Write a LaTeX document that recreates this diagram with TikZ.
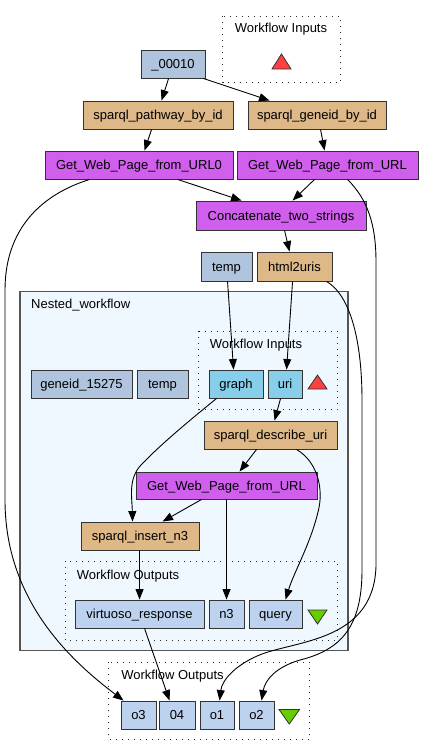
\documentclass[tikz,border=0pt]{standalone}
\usepackage{fontspec}
\setmainfont{Liberation Sans}
\usetikzlibrary{arrows.meta,calc}
\definecolor{steel}{HTML}{B0C4DE}
\definecolor{burly}{HTML}{DEB887}
\definecolor{orchid}{HTML}{D15FEE}
\definecolor{sky}{HTML}{87CEEB}
\definecolor{outb}{HTML}{BCD2EE}
\definecolor{alice}{HTML}{F0F8FF}
\definecolor{trired}{HTML}{FF4040}
\definecolor{trigreen}{HTML}{66CD00}
\definecolor{clgray}{HTML}{555555}
\newcommand\mkbox[7]{\node[box,fill=#6,minimum width={(#4-#2)*1pt},minimum height={(#5-#3)*1pt}] (#1) at ({(#2+#4)/2},{(#3+#5)/2}) {#7};}
\begin{document}
\begin{tikzpicture}[x=1pt,y=-1pt,
  box/.style={draw=black!80,line width=0.9pt,inner sep=0pt,font=\fontsize{13}{15}\selectfont,text height=9.3pt,text depth=0pt,anchor=center},
  cluster/.style={draw=black!85,line width=1pt,dash pattern=on 1pt off 5pt},
  lbl/.style={inner sep=0pt,font=\fontsize{13}{15}\selectfont,text height=9.3pt,text depth=0pt},
  edge/.style={draw=black,line width=0.9pt,-{Triangle[length=10.5pt,width=8pt]}},
  tri/.style={draw=black!80,line width=0.8pt}]
\useasboundingbox (0,0) rectangle (424,756);
% clusters
\draw[cluster] (222.5,16) rectangle (340,82.5);
\node[lbl] (lblTopIn) at (281,28) {Workflow Inputs};
\draw[fill=alice,draw=clgray,line width=1.2pt] (20,291.5) rectangle (348,650.5);
\node[lbl,anchor=west] (lblNested) at (31,304) {Nested\_workflow};
\draw[cluster] (198.5,331) rectangle (337,409);
\node[lbl] (lblInIn) at (256,343.5) {Workflow Inputs};
\draw[cluster] (65,561) rectangle (337,640);
\node[lbl] (lblInOut) at (128,575) {Workflow Outputs};
\draw[cluster] (108.5,662) rectangle (309,739);
\node[lbl] (lblBotOut) at (172.5,675) {Workflow Outputs};
% triangles
\draw[tri,fill=trired] (272,69) -- (291,69) -- (281.5,54) -- cycle;
\draw[tri,fill=trired] (308,389) -- (327,389) -- (317.5,375) -- cycle;
\draw[tri,fill=trigreen] (308,610) -- (327,610) -- (317.5,624) -- cycle;
\draw[tri,fill=trigreen] (279,709.5) -- (299.5,709.5) -- (289.25,724) -- cycle;
% boxes
\mkbox{n00010}{141}{50}{205}{78}{steel}{\_00010}
\mkbox{pathway}{83}{101}{233}{129}{burly}{sparql\_pathway\_by\_id}
\mkbox{geneid}{248}{101}{386}{129}{burly}{sparql\_geneid\_by\_id}
\mkbox{gwpA}{45}{151}{233}{179}{orchid}{Get\_Web\_Page\_from\_URL0}
\mkbox{gwpB}{237}{151}{418}{179}{orchid}{Get\_Web\_Page\_from\_URL}
\mkbox{concat}{196}{201}{366}{230}{orchid}{Concatenate\_two\_strings}
\mkbox{tempA}{201}{252}{252}{281}{steel}{temp}
\mkbox{html}{257}{252}{332}{281}{burly}{html2uris}
\mkbox{geneidB}{31}{370}{132}{398}{steel}{geneid\_15275}
\mkbox{tempB}{137}{370}{188}{398}{steel}{temp}
\mkbox{graph}{209}{370}{263}{398}{sky}{graph}
\mkbox{uri}{268}{370}{302}{398}{sky}{uri}
\mkbox{sdu}{204}{421}{337}{449}{burly}{sparql\_describe\_uri}
\mkbox{gwpC}{136}{472}{317}{499}{orchid}{Get\_Web\_Page\_from\_URL}
\mkbox{sin}{81}{522}{199}{550}{burly}{sparql\_insert\_n3}
\mkbox{virt}{75}{600}{204}{628}{outb}{virtuoso\_response}
\mkbox{nthree}{209}{600}{244}{628}{outb}{n3}
\mkbox{query}{249}{600}{302}{628}{outb}{query}
\mkbox{othree}{121}{701}{156}{729}{outb}{o3}
\mkbox{ofour}{159}{701}{195}{729}{outb}{04}
\mkbox{oone}{200}{701}{234}{729}{outb}{o1}
\mkbox{otwo}{239}{701}{274}{729}{outb}{o2}
% edges
\draw[edge] ([xshift=28pt]n00010.south west) -- ([xshift=79pt]pathway.north west);
\draw[edge] ([xshift=-2pt]n00010.south east) -- ([xshift=22pt]geneid.north west);
\draw[edge] ([xshift=69pt]pathway.south west) -- ([xshift=100pt]gwpA.north west);
\draw[edge] ([xshift=73pt]geneid.south west) -- ([xshift=88pt]gwpB.north west);
\draw[edge] ([xshift=133pt]gwpA.south west) -- ([xshift=46pt]concat.north west);
\draw[edge] ([xshift=78pt]gwpB.south west) -- ([xshift=97pt]concat.north west);
\draw[edge] ([xshift=89pt]concat.south west) -- ([xshift=33pt]html.north west);
\draw[edge] ([xshift=27pt]tempA.south west) -- ([xshift=25pt]graph.north west);
\draw[edge] ([xshift=36pt]html.south west) -- ([xshift=19pt]uri.north west);
\draw[edge] ([xshift=13pt]uri.south west) -- ([xshift=71pt]sdu.north west);
\draw[edge] ([xshift=53pt]sdu.south west) -- ([xshift=104pt]gwpC.north west);
\draw[edge] ([xshift=93pt]sdu.south west) .. controls (318,462) and (324,490) .. (318,512) .. controls (310,545) and (294,572) .. ([xshift=37pt]query.north west);
\draw[edge] ([xshift=8pt]graph.south west) .. controls (190,420) and (160,445) .. (141,465) .. controls (128,479) and (132,497) .. ([xshift=52pt]sin.north west);
\draw[edge] ([xshift=66pt]gwpC.south west) -- ([xshift=82pt]sin.north west);
\draw[edge] ([xshift=91pt]gwpC.south west) -- ([xshift=18pt]nthree.north west);
\draw[edge] ([xshift=59pt]sin.south west) -- ([xshift=65pt]virt.north west);
\draw[edge] ([xshift=70pt]virt.south west) -- ([xshift=11pt]ofour.north west);
\draw[edge] ([xshift=45pt]gwpA.south west) .. controls (40,195) and (5,230) .. (5,290) -- (5,500) .. controls (5,600) and (70,660) .. ([xshift=3pt]othree.north west);
\draw[edge] ([xshift=111pt]gwpB.south west) .. controls (368,200) and (376,225) .. (376,262) -- (376,560) .. controls (378,640) and (300,640) .. (262,654) .. controls (236,664) and (222,680) .. ([xshift=20pt]oone.north west);
\draw[edge] ([xshift=70pt]html.south west) .. controls (350,295) and (362,340) .. (362,400) -- (362,570) .. controls (362,628) and (340,650) .. (300,660) .. controls (276,667) and (265,680) .. ([xshift=23pt]otwo.north west);
\end{tikzpicture}
\end{document}
